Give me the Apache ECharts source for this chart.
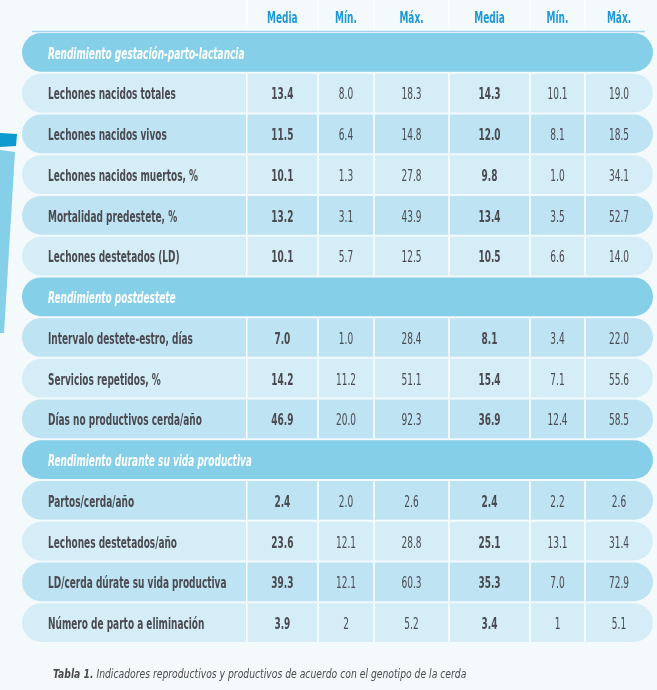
<!DOCTYPE html>
<html>
<head>
<meta charset="utf-8">
<script src="https://cdn.jsdelivr.net/npm/echarts@6/dist/echarts.min.js"></script>
<style>
html, body { margin: 0; padding: 0; background: #f4f9fc; }
#chart { width: 657px; height: 690px; }
</style>
</head>
<body>
<div id="chart"></div>
<script>
// table content
const columns = ['Media', 'Mín.', 'Máx.', 'Media', 'Mín.', 'Máx.'];
const sections = [
    'Rendimiento gestación-parto-lactancia',
    'Rendimiento postdestete',
    'Rendimiento durante su vida productiva'
];
const indicators = [
    'Lechones nacidos totales',
    'Lechones nacidos vivos',
    'Lechones nacidos muertos, %',
    'Mortalidad predestete, %',
    'Lechones destetados (LD)',
    'Intervalo destete-estro, días',
    'Servicios repetidos, %',
    'Días no productivos cerda/año',
    'Partos/cerda/año',
    'Lechones destetados/año',
    'LD/cerda dúrate su vida productiva',
    'Número de parto a eliminación'
];
const indicatorSection = [0, 0, 0, 0, 0, 1, 1, 1, 2, 2, 2, 2];
const mediaA = ['13.4', '11.5', '10.1', '13.2', '10.1', '7.0', '14.2', '46.9', '2.4', '23.6', '39.3', '3.9'];
const minA   = ['8.0', '6.4', '1.3', '3.1', '5.7', '1.0', '11.2', '20.0', '2.0', '12.1', '12.1', '2'];
const maxA   = ['18.3', '14.8', '27.8', '43.9', '12.5', '28.4', '51.1', '92.3', '2.6', '28.8', '60.3', '5.2'];
const mediaB = ['14.3', '12.0', '9.8', '13.4', '10.5', '8.1', '15.4', '36.9', '2.4', '25.1', '35.3', '3.4'];
const minB   = ['10.1', '8.1', '1.0', '3.5', '6.6', '3.4', '7.1', '12.4', '2.2', '13.1', '7.0', '1'];
const maxB   = ['19.0', '18.5', '34.1', '52.7', '14.0', '22.0', '55.6', '58.5', '2.6', '31.4', '72.9', '5.1'];
const captionBold = 'Tabla 1.';
const captionText = ' Indicadores reproductivos y productivos de acuerdo con el genotipo de la cerda';

// layout / style
const TABLE_W = 631;
const colEdges = [0, 224.7, 296, 352, 427, 508, 563, 631];
const shadeDark = [0, 1, 0, 1, 0, 1, 0, 1, 1, 0, 1, 0];
const FONT = '"DejaVu Sans Condensed", "Liberation Sans", sans-serif';
const TEXT_COLOR = '#4a4a50';
const SQUEEZE = 0.665;   // narrow the condensed font further

// build the rows (section headers + indicators)
const rows = [];
sections.forEach((s, si) => {
    rows.push({ kind: 'section', label: s });
    indicators.forEach((name, k) => {
        if (indicatorSection[k] !== si) return;
        rows.push({
            kind: 'data', label: name, idx: k,
            values: [mediaA[k], minA[k], maxA[k], mediaB[k], minB[k], maxB[k]]
        });
    });
});

const cellData = [];
const cellText = [];
const cellBold = [];
rows.forEach((r, i) => {
    if (r.kind !== 'data') return;
    r.values.forEach((v, j) => {
        cellData.push([(colEdges[j + 1] + colEdges[j + 2]) / 2, i]);
        cellText.push(v);
        cellBold.push(j === 0 || j === 3);
    });
});

let myChart = echarts.init(document.getElementById('chart'));

let option = {
    backgroundColor: '#f4f9fc',
    animation: false,
    grid: [
        { left: 22, right: 4, top: 0, height: 32 },
        { left: 22, right: 4, top: 33, bottom: 46 }
    ],
    xAxis: [
        { gridIndex: 0, type: 'value', min: 0, max: TABLE_W, show: false },
        { gridIndex: 1, type: 'value', min: 0, max: TABLE_W, show: false }
    ],
    yAxis: [
        { gridIndex: 0, type: 'category', data: ['header'], show: false },
        { gridIndex: 1, type: 'category', data: rows.map(r => r.label), inverse: true, show: false }
    ],
    series: [
        {
            // header separators
            type: 'custom',
            xAxisIndex: 0, yAxisIndex: 0,
            silent: true,
            data: [[0, 0]],
            renderItem: (params, api) => {
                const h = api.size([0, 1])[1];
                const c = api.coord([0, 0]);
                const top = c[1] - h / 2;
                const children = [];
                for (let j = 1; j < colEdges.length - 1; j++) {
                    const x = api.coord([colEdges[j], 0])[0];
                    children.push({ type: 'line', shape: { x1: x, y1: top, x2: x, y2: top + h }, style: { stroke: '#ffffff', lineWidth: 1.5 } });
                }
                const x0 = api.coord([10, 0])[0];
                const x1 = api.coord([TABLE_W - 8, 0])[0];
                children.push({ type: 'line', shape: { x1: x0, y1: top + h - 0.5, x2: x1, y2: top + h - 0.5 }, style: { stroke: '#9fd6ee', lineWidth: 1.5 } });
                return { type: 'group', children };
            }
        },
        {
            // header labels
            type: 'custom',
            xAxisIndex: 0, yAxisIndex: 0,
            silent: true,
            data: columns.map((c, j) => [(colEdges[j + 1] + colEdges[j + 2]) / 2, 0]),
            renderItem: (params, api) => {
                const p = api.coord([api.value(0), 0]);
                return {
                    type: 'text', x: p[0], y: p[1] + 3, scaleX: SQUEEZE,
                    style: { text: columns[params.dataIndex], font: 'bold 15px ' + FONT, fill: '#1d9ad6', align: 'center', verticalAlign: 'middle' }
                };
            }
        },
        {
            // row backgrounds
            type: 'custom',
            xAxisIndex: 1, yAxisIndex: 1,
            silent: true,
            data: rows.map((r, i) => [0, i]),
            renderItem: (params, api) => {
                const i = api.value(1);
                const r = rows[params.dataIndex];
                const p0 = api.coord([0, i]);
                const p1 = api.coord([TABLE_W, i]);
                const h = api.size([0, 1])[1];
                const top = p0[1] - h / 2;
                const rh = h - 2;
                const fill = r.kind === 'section' ? '#86cfe8' : (shadeDark[r.idx] ? '#bee3f2' : '#d5edf7');
                const children = [{
                    type: 'rect',
                    shape: { x: p0[0], y: top, width: p1[0] - p0[0], height: rh, r: rh / 2 },
                    style: { fill }
                }];
                if (r.kind === 'data') {
                    for (let j = 1; j < colEdges.length - 1; j++) {
                        const x = api.coord([colEdges[j], i])[0];
                        children.push({ type: 'line', shape: { x1: x, y1: top, x2: x, y2: top + rh }, style: { stroke: '#ffffff', lineWidth: 1.5 } });
                    }
                }
                return { type: 'group', children };
            }
        },
        {
            // row labels
            type: 'custom',
            xAxisIndex: 1, yAxisIndex: 1,
            silent: true,
            data: rows.map((r, i) => [0, i]),
            renderItem: (params, api) => {
                const r = rows[params.dataIndex];
                const p = api.coord([0, api.value(1)]);
                const section = r.kind === 'section';
                return {
                    type: 'text', x: p[0] + 26, y: p[1] + 1.5, scaleX: SQUEEZE,
                    style: {
                        text: r.label,
                        font: (section ? 'italic bold 15px ' : 'bold 15px ') + FONT,
                        fill: section ? '#ffffff' : TEXT_COLOR,
                        align: 'left', verticalAlign: 'middle'
                    }
                };
            }
        },
        {
            // cell values
            type: 'custom',
            xAxisIndex: 1, yAxisIndex: 1,
            silent: true,
            data: cellData,
            renderItem: (params, api) => {
                const p = api.coord([api.value(0), api.value(1)]);
                return {
                    type: 'text', x: p[0], y: p[1] + 1.5, scaleX: SQUEEZE,
                    style: {
                        text: cellText[params.dataIndex],
                        font: (cellBold[params.dataIndex] ? 'bold 15px ' : '15px ') + FONT,
                        fill: TEXT_COLOR, align: 'center', verticalAlign: 'middle'
                    }
                };
            }
        }
    ],
    graphic: [
        { type: 'polygon', shape: { points: [[0, 133], [17, 134], [16, 146], [0, 147]] }, style: { fill: '#0c9ad0' }, silent: true },
        { type: 'polygon', shape: { points: [[0, 150], [15, 152], [4, 333], [0, 333]] }, style: { fill: '#86cfe8' }, silent: true },
        {
            type: 'text', x: 53, y: 675, scaleX: 0.79, silent: true,
            style: {
                text: '{b|' + captionBold + '}{i|' + captionText + '}',
                verticalAlign: 'middle',
                rich: {
                    b: { font: 'italic bold 13px ' + FONT, fill: '#4a4a4a' },
                    i: { font: 'italic 13px ' + FONT, fill: '#4a4a4a' }
                }
            }
        }
    ]
};
myChart.setOption(option);
</script>
</body>
</html>
